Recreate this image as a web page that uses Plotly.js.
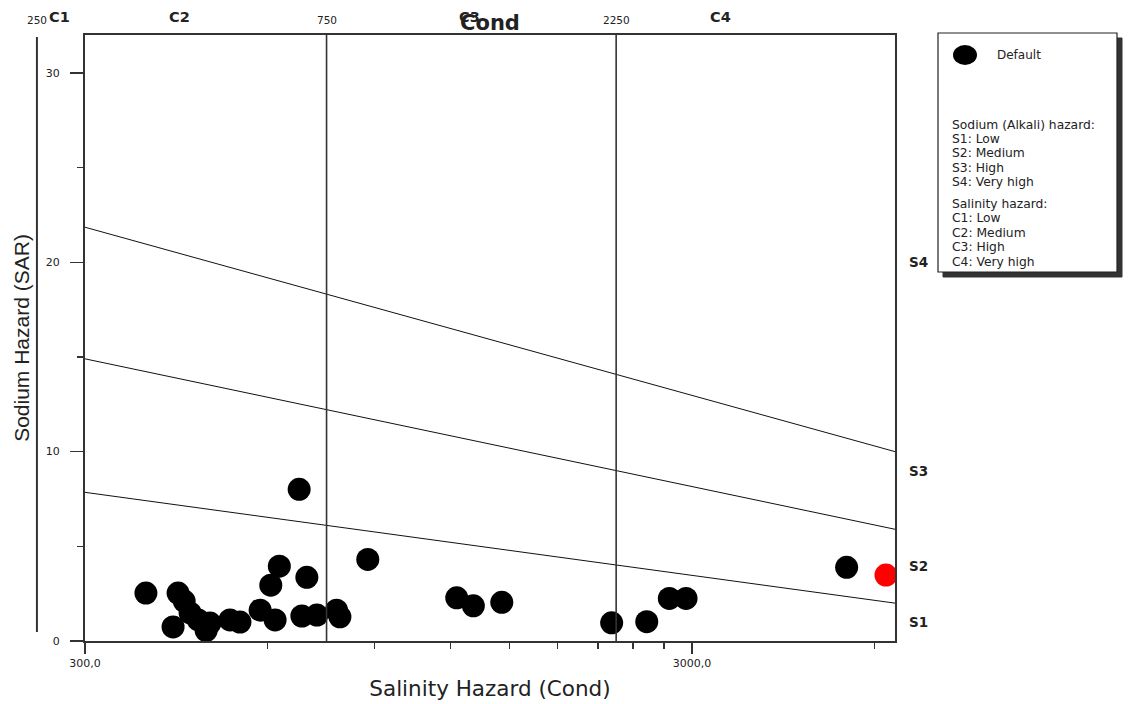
<!DOCTYPE html>
<html>
<head>
<meta charset="utf-8">
<script src="https://cdn.plot.ly/plotly-3.0.1.min.js"></script>
<style>html,body{margin:0;padding:0;background:#fff;}#chart{width:1128px;height:704px;}</style>
</head>
<body>
<div id="chart"></div>
<script>
// ---- data ----
const condValues = [378, 427, 437, 447, 461, 482, 475, 419, 520, 540, 583, 617, 607, 627, 696, 683, 723, 779, 789, 676, 877, 1229, 1309, 1458, 2212, 2527, 2753, 2933, 5394];
const sarValues  = [2.53, 2.53, 2.11, 1.48, 1.11, 0.95, 0.55, 0.74, 1.11, 1.0, 1.63, 1.11, 2.95, 3.95, 3.36, 1.32, 1.37, 1.63, 1.28, 8.01, 4.31, 2.28, 1.86, 2.04, 0.96, 1.02, 2.25, 2.25, 3.89];
const highlightCond = [6261];
const highlightSar = [3.48];

const boundaryCond = [300, 6480];
const boundaryS1S2 = [7.85, 2.0];
const boundaryS2S3 = [14.9, 5.9];
const boundaryS3S4 = [21.85, 10.0];

const salinityBounds = [750, 2250];
const salinityBoundLabels = ['250', '750', '2250'];
const salinityBoundLabelCond = [250, 750, 2250];
const salinityClassLabels = ['C1', 'C2', 'C3', 'C4'];
const salinityClassCond = [272, 430, 1290, 3340];
const sodiumClassLabels = ['S4', 'S3', 'S2', 'S1'];
const sodiumClassSar = [20, 9.0, 3.95, 1.0];

const xTickVals = [300, 3000];
const xTickText = ['300,0', '3000,0'];
const xMinorVals = [600, 900, 1200, 1500, 1800, 2100, 2400, 2700, 6000];
const legendLines = ['Sodium (Alkali) hazard:', 'S1: Low', 'S2: Medium', 'S3: High', 'S4: Very high',
                     'Salinity hazard:', 'C1: Low', 'C2: Medium', 'C3: High', 'C4: Very high'];

// ---- layout helpers (pixel -> paper) ----
const L = 85, R = 895, T = 35, B = 641;
const px = x => (x - L) / (R - L);
const py = y => (B - y) / (B - T);
const xRange = [Math.log10(300), Math.log10(6480)];
const condToPaper = v => (Math.log10(v) - xRange[0]) / (xRange[1] - xRange[0]);

const FONT = 'Liberation Sans, Arial, sans-serif';
const WIDE = 'DejaVu Sans, Verdana, sans-serif';
const traces = [
  {x: boundaryCond, y: boundaryS1S2, mode: 'lines', line: {color: '#111', width: 1}, showlegend: false, hoverinfo: 'skip'},
  {x: boundaryCond, y: boundaryS2S3, mode: 'lines', line: {color: '#111', width: 1}, showlegend: false, hoverinfo: 'skip'},
  {x: boundaryCond, y: boundaryS3S4, mode: 'lines', line: {color: '#111', width: 1}, showlegend: false, hoverinfo: 'skip'},
  {x: condValues, y: sarValues, mode: 'markers', name: 'Default',
   marker: {color: '#000', size: 23, symbol: 'circle', line: {width: 0}}, showlegend: false},
  {x: highlightCond, y: highlightSar, mode: 'markers', name: 'Sample',
   marker: {color: '#ff0000', size: 23, symbol: 'circle', line: {width: 0}}, showlegend: false}
];

const shapes = [];
salinityBounds.forEach(v => shapes.push({type: 'line', xref: 'x', yref: 'paper', x0: v, x1: v, y0: 0, y1: 1,
  line: {color: '#333', width: 1.6}}));
// extra left vertical line at the C1 lower bound
shapes.push({type: 'line', xref: 'paper', yref: 'paper', x0: condToPaper(250), x1: condToPaper(250), y0: py(632), y1: py(37),
  line: {color: '#333', width: 2}});
// legend box with shadow
shapes.push({type: 'rect', xref: 'paper', yref: 'paper', x0: px(943), x1: px(1122), y0: py(277), y1: py(38),
  fillcolor: '#333', line: {color: '#333', width: 1}});
shapes.push({type: 'rect', xref: 'paper', yref: 'paper', x0: px(938), x1: px(1117), y0: py(272), y1: py(33),
  fillcolor: '#fff', line: {color: '#222', width: 1.2}});
shapes.push({type: 'circle', xref: 'paper', yref: 'paper', x0: px(953), x1: px(977), y0: py(65), y1: py(45),
  fillcolor: '#000', line: {color: '#000', width: 0}});

const annotations = [];
salinityBoundLabels.forEach((t, i) => annotations.push({text: t, xref: 'paper', yref: 'paper', x: condToPaper(salinityBoundLabelCond[i]),
  y: py(20), showarrow: false, xanchor: 'center', yanchor: 'middle', font: {family: WIDE, size: 10.5, color: '#222'}}));
salinityClassLabels.forEach((t, i) => annotations.push({text: '<b>' + t + '</b>', xref: 'paper', yref: 'paper', x: condToPaper(salinityClassCond[i]),
  y: py(17), showarrow: false, xanchor: 'center', yanchor: 'middle', font: {family: WIDE, size: 14.5, color: '#222'}}));
sodiumClassLabels.forEach((t, i) => annotations.push({text: '<b>' + t + '</b>', xref: 'paper', yref: 'y', x: px(907), y: sodiumClassSar[i],
  showarrow: false, xanchor: 'left', yanchor: 'middle', font: {family: WIDE, size: 13.5, color: '#222'}}));
annotations.push({text: 'Default', xref: 'paper', yref: 'paper', x: px(995), y: py(55), showarrow: false,
  xanchor: 'left', yanchor: 'middle', font: {family: WIDE, size: 12, color: '#222'}});
const legendY = [125, 139, 153, 168, 182, 204, 218, 233, 247, 262];
legendLines.forEach((t, i) => annotations.push({text: t, xref: 'paper', yref: 'paper', x: px(950), y: py(legendY[i]),
  showarrow: false, xanchor: 'left', yanchor: 'middle', font: {family: WIDE, size: 12.3, color: '#222'}}));

const layout = {
  width: 1128, height: 704,
  margin: {l: L, r: 1128 - R, t: T, b: 704 - B, pad: 0},
  paper_bgcolor: '#fff', plot_bgcolor: '#fff',
  font: {family: FONT, color: '#222'},
  title: {text: '<b>Cond</b>', x: 0.5, xref: 'paper', xanchor: 'center', y: 1 - 23 / 704, yanchor: 'middle',
          font: {family: WIDE, size: 21, color: '#222'}},
  showlegend: false,
  xaxis: {
    type: 'log', range: xRange,
    showline: true, linecolor: '#333', linewidth: 2, mirror: true,
    showgrid: false, zeroline: false,
    tickmode: 'array', tickvals: xTickVals, ticktext: xTickText,
    ticks: 'outside', ticklen: 11, tickwidth: 1.5, tickcolor: '#333',
    tickfont: {family: WIDE, size: 11, color: '#222'},
    minor: {tickmode: 'array', tickvals: xMinorVals, ticks: 'outside', ticklen: 6, tickwidth: 1.5, tickcolor: '#333', showgrid: false},
    title: {text: 'Salinity Hazard (Cond)', font: {family: WIDE, size: 21.5, color: '#222'}, standoff: 12},
    automargin: false
  },
  yaxis: {
    range: [0, 32], showline: true, linecolor: '#333', linewidth: 2, mirror: true,
    showgrid: false, zeroline: false,
    tickmode: 'array', tickvals: [0, 10, 20, 30],
    ticks: 'outside', ticklen: 13, tickwidth: 1.5, tickcolor: '#333',
    ticklabelstandoff: 8,
    tickfont: {family: WIDE, size: 11, color: '#222'},
    minor: {dtick: 5, ticks: 'outside', ticklen: 6, tickwidth: 1.5, tickcolor: '#333', showgrid: false},
    title: {text: 'Sodium Hazard (SAR)', font: {family: FONT, size: 21, color: '#222'}, standoff: 10},
    automargin: false
  },
  shapes: shapes,
  annotations: annotations
};

Plotly.newPlot('chart', traces, layout, {displayModeBar: false, staticPlot: true});
</script>
</body>
</html>
